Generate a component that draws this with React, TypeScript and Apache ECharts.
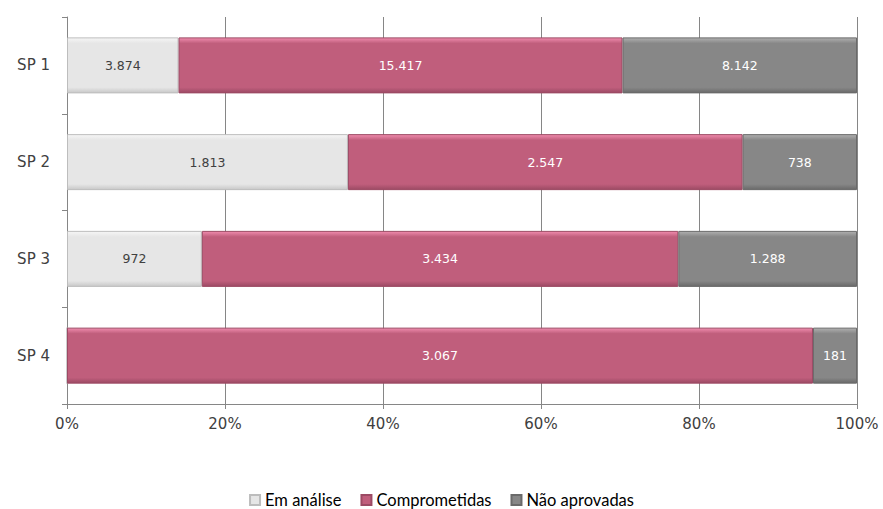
import React, { useEffect, useRef } from "react";
import * as echarts from "echarts";

const categories = ["SP 1", "SP 2", "SP 3", "SP 4"];
const emAnalise = [3874, 1813, 972, 0];
const comprometidas = [15417, 2547, 3434, 3067];
const naoAprovadas = [8142, 738, 1288, 181];
const xTicks = [0, 20, 40, 60, 80, 100];

const fmt = (v: number) => v.toString().replace(/\B(?=(\d{3})+(?!\d))/g, ".");

const grad = (top: string, main: string, bottom: string) =>
  new echarts.graphic.LinearGradient(0, 0, 0, 1, [
    { offset: 0, color: top },
    { offset: 0.1, color: main },
    { offset: 0.9, color: main },
    { offset: 1, color: bottom },
  ]);

export default function App() {
  const ref = useRef<HTMLDivElement>(null);
  useEffect(() => {
    if (!ref.current) return;
    const chart = echarts.init(ref.current, null, { renderer: "svg" });
    const totals = categories.map((_, i) => emAnalise[i] + comprometidas[i] + naoAprovadas[i]);
    const mk = (name: string, vals: number[], color: any, border: string, labelColor: string) => ({
      name,
      type: "bar",
      stack: "total",
      barWidth: 56,
      data: vals.map((v, i) => ({ value: (v / totals[i]) * 100, raw: v })),
      itemStyle: { color, borderColor: border, borderWidth: 1 },
      label: {
        show: true,
        position: "inside",
        color: labelColor,
        fontFamily: "DejaVu Sans",
        fontSize: 12.5,
        formatter: (p: any) => (p.data.raw ? fmt(p.data.raw) : ""),
      },
      emphasis: { disabled: true },
    });
    chart.setOption({
      animation: false,
      grid: { left: 67, right: 26, top: 17, bottom: 105, containLabel: false },
      legend: {
        top: 486,
        left: "center",
        itemWidth: 10,
        itemHeight: 10,
        itemGap: 19,
        icon: "rect",
        textStyle: { fontFamily: "Lato", fontSize: 16.5, color: "#000000", lineHeight: 18 },
        data: ["Em análise", "Comprometidas", "Não aprovadas"],
      },
      xAxis: {
        type: "value",
        min: 0,
        max: 100,
        interval: 20,
        axisLine: { show: true, lineStyle: { color: "#868686", width: 1 } },
        axisTick: { show: true, length: 5, lineStyle: { color: "#868686" } },
        splitLine: { show: true, lineStyle: { color: "#868686", width: 1 } },
        axisLabel: {
          fontFamily: "DejaVu Sans",
          fontSize: 15,
          color: "#404040",
          margin: 12,
          formatter: (v: number) => (xTicks.includes(v) ? v + "%" : ""),
        },
      },
      yAxis: {
        type: "category",
        inverse: true,
        data: categories,
        axisLine: { show: true, lineStyle: { color: "#868686", width: 1 } },
        axisTick: { show: true, length: 5, lineStyle: { color: "#868686" } },
        axisLabel: { fontFamily: "DejaVu Sans", fontSize: 15, color: "#404040", margin: 17 },
      },
      series: [
        mk("Em análise", emAnalise, grad("#f6f6f6", "#e6e6e6", "#c8c8c8"), "#bdbdbd", "#404040"),
        mk("Comprometidas", comprometidas, grad("#f08cae", "#c05e7c", "#9c4a64"), "#9c4a64", "#ffffff"),
        mk("Não aprovadas", naoAprovadas, grad("#b0b0b0", "#878787", "#6a6a6a"), "#6a6a6a", "#ffffff"),
      ],
    });
    return () => chart.dispose();
  }, []);
  return <div ref={ref} style={{ width: 883, height: 509, position: "absolute", left: 0, top: 0 }} />;
}
